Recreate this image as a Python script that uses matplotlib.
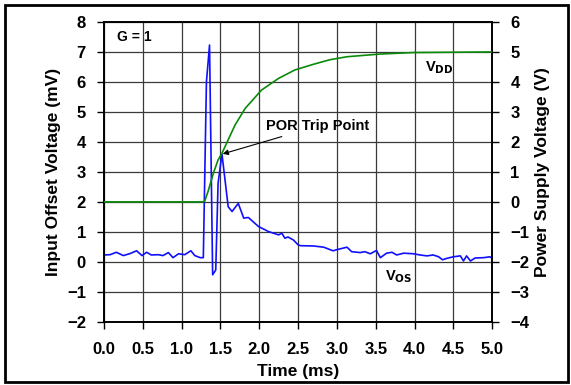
import matplotlib.pyplot as plt
from matplotlib.patches import Rectangle

plt.rcParams['font.family'] = ['Liberation Sans', 'DejaVu Sans']
plt.rcParams['font.weight'] = 'bold'

# Input offset voltage (mV) vs time (ms)
t_vos = [0.00, 0.08, 0.16, 0.25, 0.34, 0.42, 0.49, 0.55, 0.61, 0.70, 0.76, 0.83,
         0.89, 0.96, 1.04, 1.12, 1.17, 1.24, 1.28, 1.32, 1.36, 1.40, 1.44, 1.47,
         1.52, 1.60, 1.65, 1.73, 1.80, 1.86, 1.99, 2.12, 2.25, 2.29, 2.33, 2.37,
         2.44, 2.50, 2.53, 2.70, 2.83, 2.95, 3.02, 3.13, 3.19, 3.30, 3.36, 3.43,
         3.51, 3.56, 3.64, 3.71, 3.77, 3.86, 3.99, 4.07, 4.16, 4.24, 4.31, 4.36,
         4.42, 4.50, 4.59, 4.63, 4.67, 4.72, 4.78, 4.89, 4.97, 5.00]
vos = [0.23, 0.24, 0.32, 0.21, 0.28, 0.37, 0.21, 0.32, 0.23, 0.24, 0.21, 0.31,
       0.14, 0.27, 0.24, 0.37, 0.21, 0.14, 0.14, 6.00, 7.23, -0.43, -0.27, 2.62,
       3.60, 1.84, 1.68, 1.95, 1.46, 1.48, 1.18, 1.01, 0.90, 0.96, 0.79, 0.83,
       0.73, 0.57, 0.54, 0.53, 0.49, 0.37, 0.42, 0.49, 0.34, 0.31, 0.34, 0.27,
       0.38, 0.14, 0.29, 0.32, 0.23, 0.29, 0.27, 0.23, 0.20, 0.23, 0.17, 0.07,
       0.12, 0.17, 0.20, 0.03, 0.20, 0.03, 0.13, 0.14, 0.17, 0.12]

# Power supply voltage (V) vs time (ms)
t_vdd = [0.00, 1.28, 1.30, 1.34, 1.41, 1.47, 1.52, 1.60, 1.69, 1.82, 2.03,
         2.25, 2.46, 2.70, 2.91, 3.13, 3.56, 3.99, 4.50, 5.00]
vdd = [0.00, 0.00, 0.04, 0.34, 0.96, 1.40, 1.62, 2.07, 2.57, 3.12, 3.73,
       4.12, 4.40, 4.59, 4.74, 4.84, 4.93, 4.98, 4.99, 5.00]

x_ticks = [0.0, 0.5, 1.0, 1.5, 2.0, 2.5, 3.0, 3.5, 4.0, 4.5, 5.0]

fig = plt.figure(figsize=(5.71, 3.85), dpi=100)
ax = fig.add_axes([0.182, 0.164, 0.68, 0.779])
ax2 = ax.twinx()

ax.plot(t_vos, vos, color='#1010ff', lw=1.2, zorder=3)
ax2.plot(t_vdd, vdd, color='#0a8a0a', lw=1.2, zorder=3)

ax.set_xlim(0, 5)
ax.set_ylim(-2, 8)
ax2.set_ylim(-4, 6)
ax.set_xticks(x_ticks)
ax.set_xticklabels([f'{v:.1f}' for v in x_ticks])
ax.set_yticks(range(-2, 9))
ax2.set_yticks(range(-4, 7))
ax.grid(True, color='#3a3a3a', lw=0.9)
ax.set_axisbelow(True)

for a in (ax, ax2):
    a.tick_params(labelsize=12, length=5, width=1, direction='out', pad=8)
    for s in a.spines.values():
        s.set_linewidth(1.2)
ax.tick_params(axis='x', pad=9.5)

ax.set_xlabel('Time (ms)', fontsize=12.5, fontweight='bold', labelpad=5)
ax.set_ylabel('Input Offset Voltage (mV)', fontsize=12.5, fontweight='bold', labelpad=4)
ax2.set_ylabel('Power Supply Voltage (V)', fontsize=12.5, fontweight='bold', labelpad=4)

ax.text(0.17, 7.5, 'G = 1', fontsize=10, fontweight='bold', va='center')
ax.annotate('POR Trip Point', xy=(1.53, 3.6), xytext=(2.09, 4.53),
            fontsize=10.5, fontweight='bold', va='center',
            arrowprops=dict(arrowstyle='-|>', color='black', lw=0.8,
                            mutation_scale=8, shrinkA=2, shrinkB=0))
ax.text(4.14, 6.47, r'V$_{\mathbf{DD}}$', fontsize=10.5, fontweight='bold', va='center')
ax.text(3.62, -0.49, r'V$_{\mathbf{OS}}$', fontsize=10.5, fontweight='bold', va='center')

fig.patches.append(Rectangle((5 / 571, 3 / 385), 563 / 571, 377 / 385,
                             transform=fig.transFigure, fill=False,
                             edgecolor='black', lw=2))

fig.savefig('out.png', dpi=100)
